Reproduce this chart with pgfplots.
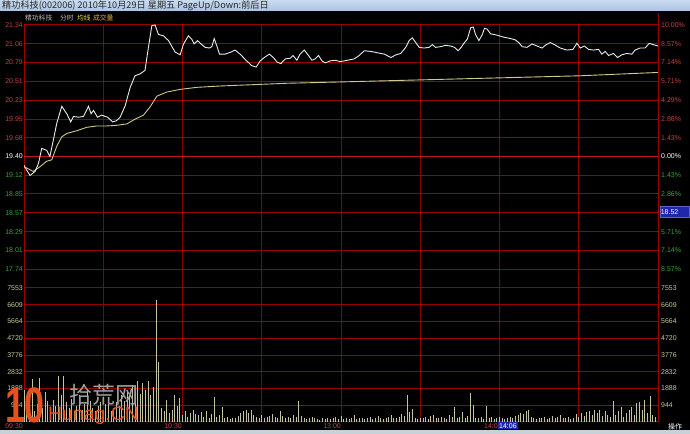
\documentclass[border=0pt]{standalone}
\usepackage{pgfplots}
\pgfplotsset{compat=1.18}
\usepackage{fontspec}
\setmainfont{Liberation Sans}
\newfontfamily\cjk{Noto Sans CJK SC}
\definecolor{gridh}{HTML}{9A0000}
\definecolor{gridv}{HTML}{8A0000}
\definecolor{zeroline}{HTML}{BE1414}
\definecolor{upred}{HTML}{C84040}
\definecolor{dngreen}{HTML}{3CA03C}
\definecolor{avgc}{HTML}{D2C88C}
\definecolor{volc}{HTML}{C4C4A0}
\definecolor{vollab}{HTML}{C8C89A}
\definecolor{boxblue}{HTML}{1E28A8}
\definecolor{boxedge}{HTML}{5A64C8}
\definecolor{wmorange}{HTML}{E5521C}
\definecolor{titletop}{HTML}{C8DAEE}
\definecolor{titlebot}{HTML}{AAC4E4}
\definecolor{botstrip}{HTML}{C8D0D8}
\definecolor{titletxt}{HTML}{282828}
\definecolor{hdrgray}{HTML}{BEBEBE}
\definecolor{hdrgray2}{HTML}{C8C8C8}
\definecolor{hdryellow}{HTML}{E1E146}
\definecolor{hdrorange}{HTML}{E1AF3C}
\definecolor{wmgray}{HTML}{A0A0A0}
\definecolor{pricec}{HTML}{EBEBEB}
\begin{document}
\begin{tikzpicture}[x=1bp,y=1bp]
\fill[black] (0,0) rectangle (690,434);
\useasboundingbox (0,0) rectangle (690,434);
\shade[top color=titletop, bottom color=titlebot] (0,423) rectangle (690,434);
\fill[botstrip] (0,0) rectangle (690,3.5);
% price panel
\begin{axis}[at={(24bp,146bp)}, anchor=south west, scale only axis, width=634bp, height=263bp,
  xmin=0, xmax=240, ymin=17.46, ymax=21.34,
  xtick={30,60,...,210}, ytick={17.74,18.01,18.29,18.57,18.85,19.12,19.68,19.95,20.23,20.51,20.79,21.06},
  xticklabels={}, yticklabels={}, major tick length=0pt,
  xmajorgrids, ymajorgrids,
  x grid style={gridv, line width=0.9bp}, y grid style={gridh, line width=1bp},
  axis line style={gridh, line width=1bp}, clip=true]
\draw[zeroline, line width=1.8bp] (axis cs:0,19.40) -- (axis cs:240,19.40);
\addplot[avgc, line width=0.9bp] coordinates {
(0,19.25)(1,19.23)(3.5,19.18)(6.1,19.25)(8.6,19.33)(10.5,19.35)(12.4,19.55)(14.3,19.69)(16.2,19.74)(20,19.78)(23.7,19.83)(27.5,19.85)(31.3,19.85)(35.1,19.86)(38.9,19.88)(42.0,19.95)(45.2,20.01)(47.7,20.13)(50.3,20.29)(54.0,20.35)(59.1,20.39)(65.4,20.42)(74.2,20.44)(86.9,20.46)(99.5,20.48)(120,20.50)(150,20.53)(180,20.56)(210,20.59)(240,20.64)};
\addplot[pricec, line width=0.9bp] coordinates {
(0,19.27)(1,19.20)(2.3,19.12)(4.2,19.18)(5.5,19.30)(6.7,19.52)(8.6,19.49)(9.8,19.40)(11.1,19.64)(12.4,19.89)(14.3,20.14)(16.2,20.03)(17.7,19.91)(18.7,19.99)(20.6,19.98)(22.5,19.99)(24.4,20.14)(25.4,20.03)(26.3,20.08)(27.8,19.98)(29.4,20.01)(31.6,19.98)(33.6,19.91)(35.1,19.93)(36.4,19.98)(38.3,20.15)(40.2,20.42)(42.0,20.59)(44.0,20.62)(45.8,20.67)(47.1,21.01)(48.4,21.33)(49.6,21.34)(50.9,21.20)(52.8,21.18)(54.7,21.11)(57.2,20.94)(59.1,20.90)(60.4,21.06)(62.2,21.18)(63.5,21.13)(64.4,21.06)(65.7,21.11)(67.3,21.05)(68.6,21.01)(70.2,21.00)(71.1,21.02)(72.0,21.14)(73.0,21.03)(74.0,20.91)(76.1,20.91)(78.3,20.94)(79.9,20.97)(81.8,20.91)(84.3,20.81)(86.2,20.74)(87.9,20.72)(89.4,20.81)(91.3,20.87)(92.9,20.91)(94.4,20.86)(95.9,20.79)(97.2,20.77)(98.9,20.84)(100.8,20.85)(101.8,20.89)(103.3,20.82)(104.5,20.91)(106.1,20.97)(107.3,20.91)(109.0,20.82)(110.2,20.84)(111.5,20.89)(112.8,20.81)(114.0,20.78)(115.9,20.81)(117.8,20.82)(119.7,20.80)(122.5,20.82)(125,20.84)(126.9,20.89)(128.8,20.96)(131.3,20.95)(133.8,20.93)(136.4,20.91)(138.9,20.86)(140.8,20.90)(142.6,20.92)(144.5,21.01)(145.8,21.11)(147.0,21.15)(148.3,21.08)(149.6,21.01)(151.4,21.00)(153.3,21.01)(154.6,21.05)(155.8,21.01)(157.7,21.02)(159.6,21.04)(161.5,21.03)(163.0,21.01)(164.3,20.96)(165.5,21.01)(166.5,21.07)(167.8,21.13)(169.1,21.30)(170.1,21.31)(170.9,21.20)(172.2,21.11)(173.5,21.20)(174.3,21.29)(175.3,21.28)(176.6,21.21)(179.1,21.19)(181.6,21.16)(184.2,21.14)(186.0,21.12)(187.3,21.08)(188.6,21.02)(190.4,21.01)(192.3,21.06)(194.2,21.03)(196.1,21.00)(197.7,21.05)(199.2,21.08)(200.8,21.05)(203.0,21.00)(205.5,20.97)(207.8,20.98)(209.3,21.07)(210.6,21.00)(212.1,21.03)(213.7,20.98)(215.6,20.97)(217.5,20.98)(218.7,20.91)(220.0,20.95)(221.3,20.89)(223.1,20.92)(224.7,20.86)(226.3,20.90)(228.2,20.92)(230.1,20.91)(231.3,20.97)(233.2,21.00)(235.1,21.00)(236.7,21.07)(238.2,21.05)(240,21.03)};
\end{axis}
% volume panel
\begin{axis}[at={(24bp,12bp)}, anchor=south west, scale only axis, width=634bp, height=134bp,
  xmin=0, xmax=240, ymin=0, ymax=7553,
  xtick={30,60,...,210}, ytick={944,1888,2832,3776,4720,5664,6609},
  xticklabels={}, yticklabels={}, major tick length=0pt,
  xmajorgrids, ymajorgrids,
  x grid style={gridv, line width=0.9bp}, y grid style={gridh, line width=1bp},
  axis line style={gridh, line width=1bp}, clip=true]
\addplot[ycomb, volc, line width=0.8bp] coordinates {
(0,1800)(1,900)(2,1300)(3,2400)(4,600)(5,1000)(6,2500)(7,800)(8,1700)(9,1200)
(10,700)(11,1250)(12,900)(13,2575)(14,1500)(15,2575)(16,1100)(17,800)(18,1300)(19,600)
(20,900)(21,1500)(22,700)(23,1000)(24,1800)(25,1200)(26,800)(27,600)(28,900)(29,1100)
(30,700)(31,1000)(32,1300)(33,600)(34,800)(35,1100)(36,900)(37,1500)(38,1200)(39,1800)
(40,1400)(41,2100)(42,1700)(43,2330)(44,1600)(45,2200)(46,1800)(47,2290)(48,1500)(49,2000)
(50,6870)(51,3390)(52,780)(53,600)(54,1250)(55,500)(56,700)(57,1530)(58,900)(59,1340)
(60,400)(61,600)(62,300)(63,500)(64,700)(65,450)(66,400)(67,550)(68,300)(69,600)
(70,250)(71,450)(72,1420)(73,300)(74,400)(75,850)(76,200)(77,300)(78,150)(79,250)
(80,200)(81,350)(82,500)(83,600)(84,700)(85,500)(86,650)(87,400)(88,300)(89,250)
(90,400)(91,200)(92,300)(93,350)(94,450)(95,300)(96,250)(97,600)(98,350)(99,200)
(100,300)(101,250)(102,400)(103,300)(104,1210)(105,350)(106,200)(107,150)(108,250)(109,300)
(110,200)(111,150)(112,100)(113,200)(114,150)(115,250)(116,150)(117,200)(118,300)(119,150)
(120,350)(121,150)(122,200)(123,150)(124,250)(125,400)(126,150)(127,200)(128,250)(129,150)
(130,200)(131,300)(132,150)(133,200)(134,350)(135,250)(136,150)(137,200)(138,300)(139,400)
(140,250)(141,200)(142,300)(143,450)(144,350)(145,1530)(146,570)(147,720)(148,200)(149,150)
(150,250)(151,200)(152,300)(153,150)(154,350)(155,400)(156,250)(157,200)(158,300)(159,250)
(160,150)(161,400)(162,300)(163,870)(164,250)(165,300)(166,570)(167,200)(168,350)(169,1610)
(170,945)(171,250)(172,200)(173,300)(174,150)(175,890)(176,200)(177,300)(178,150)(179,250)
(180,300)(181,200)(182,150)(183,250)(184,300)(185,200)(186,350)(187,400)(188,500)(189,450)
(190,600)(191,650)(192,300)(193,200)(194,150)(195,250)(196,200)(197,300)(198,150)(199,250)
(200,350)(201,200)(202,300)(203,400)(204,250)(205,200)(206,300)(207,150)(208,250)(209,450)
(210,300)(211,500)(212,350)(213,550)(214,600)(215,400)(216,650)(217,500)(218,700)(219,350)
(220,600)(221,400)(222,300)(223,1190)(224,400)(225,600)(226,850)(227,300)(228,500)(229,650)
(230,850)(231,400)(232,1080)(233,1130)(234,700)(235,1230)(236,500)(237,1455)(238,400)(239,300)
(240,200)};
\end{axis}
\draw[gridh, line width=1bp] (658,12) -- (658,421);
% price labels left and right
\foreach \i/\lab/\pct/\c in {0/21.34/10.00\%/upred,1/21.06/8.57\%/upred,2/20.79/7.14\%/upred,3/20.51/5.71\%/upred,4/20.23/4.29\%/upred,5/19.95/2.86\%/upred,6/19.68/1.43\%/upred,7/19.40/0.00\%/white,8/19.12/1.43\%/dngreen,9/18.85/2.86\%/dngreen,10/18.57/4.29\%/dngreen,11/18.29/5.71\%/dngreen,12/18.01/7.14\%/dngreen,13/17.74/8.57\%/dngreen}{
  \node[anchor=east, inner sep=0pt, text=\c, font=\fontsize{7}{8}\selectfont] at (23,{409-18.786*\i}) {\lab};
  \node[anchor=west, inner sep=0pt, text=\c, font=\fontsize{7}{8}\selectfont] at (661,{409-18.786*\i}) {\pct};
}
\foreach \j/\lab in {0/7553,1/6609,2/5664,3/4720,4/3776,5/2832,6/1888,7/944}{
  \node[anchor=east, inner sep=0pt, text=vollab, font=\fontsize{7}{8}\selectfont] at (23,{146-16.75*\j}) {\lab};
  \node[anchor=west, inner sep=0pt, text=vollab, font=\fontsize{7}{8}\selectfont] at (661,{146-16.75*\j}) {\lab};
}
% crosshair value box
\node[fill=boxblue, draw=boxedge, text=white, anchor=west, inner sep=0pt, minimum height=11bp, font=\fontsize{7}{8}\selectfont, text width=29bp, align=left] at (659.5,222) {\,18.52};
% time labels
\foreach \x/\t in {23/09:30,182/10:30,341/13:00,498/14:0}{
  \node[anchor=north east, inner sep=0pt, text=upred, font=\fontsize{7}{8}\selectfont] at (\x,11) {\t};
}
\node[fill=boxblue, text=white, anchor=north west, inner sep=1pt, font=\fontsize{7}{8}\selectfont] at (498,12) {14:06};
\node[anchor=center, inner sep=0pt, text=white, font=\cjk\fontsize{7}{8}\selectfont] at (675,7.5) {操作};
% header texts
\node[anchor=west, inner sep=0pt, text=titletxt, font=\cjk\fontsize{9.2}{10}\selectfont] at (2,428.5) {精功科技(002006) 2010年10月29日 星期五 PageUp/Down:前后日};
\node[anchor=west, inner sep=0pt, text=hdrgray, font=\cjk\fontsize{6.8}{8}\selectfont] at (25,416) {精功科技};
\node[anchor=west, inner sep=0pt, text=hdrgray2, font=\cjk\fontsize{6.8}{8}\selectfont] at (60,416) {分时};
\node[anchor=west, inner sep=0pt, text=hdryellow, font=\cjk\fontsize{6.8}{8}\selectfont] at (77,416) {均线};
\node[anchor=west, inner sep=0pt, text=hdrorange, font=\cjk\fontsize{6.8}{8}\selectfont] at (93,416) {成交量};
% watermark
\node[anchor=center, inner sep=0pt, text=wmorange, xscale=0.72, font=\bfseries\fontsize{50}{50}\selectfont] at (25,29) {10};
\node[anchor=base west, inner sep=0pt, text=wmorange, font=\fontsize{19.5}{20}\selectfont] at (48,13) {Hunag.CN};
\node[anchor=center, inner sep=0pt, text=wmgray, font=\cjk\fontsize{23}{24}\selectfont] at (104,39) {拾荒网};
\end{tikzpicture}
\end{document}
